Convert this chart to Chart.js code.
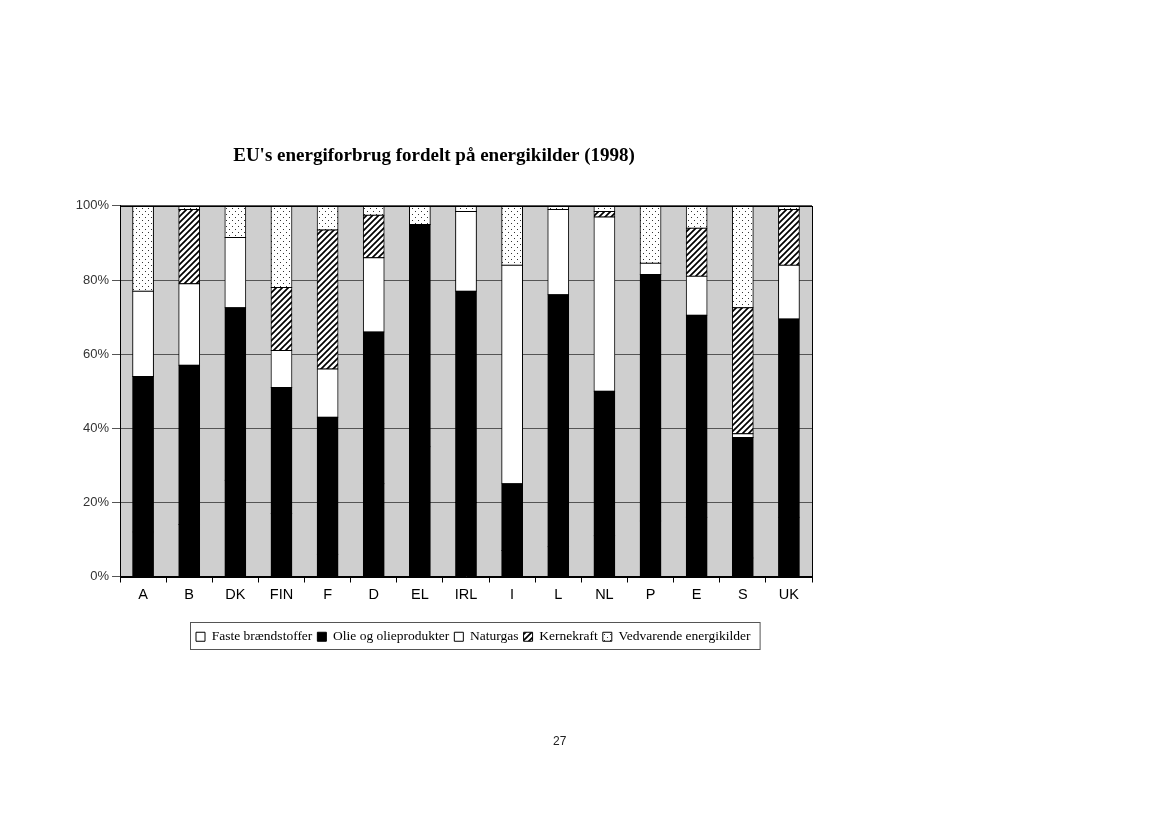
<!DOCTYPE html>
<html><head><meta charset="utf-8">
<script src="https://cdn.jsdelivr.net/npm/chart.js@4/dist/chart.umd.min.js"></script>
<style>
html,body{margin:0;padding:0;background:#fff;width:1163px;height:827px;overflow:hidden}
#wrap{position:absolute;left:0;top:0;width:1163px;height:827px}
#pg{position:absolute;left:553px;top:734px;font:12px "Liberation Sans",Arial,sans-serif;color:#222}
</style></head><body>
<div id="wrap"><canvas id="c" width="1163" height="827"></canvas></div>
<div id="pg">27</div>
<script>
// Categories (countries)
const countries = ["A","B","DK","FIN","F","D","EL","IRL","I","L","NL","P","E","S","UK"];
// Shares in percent (solid fuels are not separable from oil in the scan and are estimated)
const fasteBraendstoffer = [12, 14, 26, 17, 6, 25, 35, 20, 7, 8, 11, 15, 16, 5, 16];
const olieOgOlieprodukter = [42, 43, 46.5, 34, 37, 41, 60, 57, 18, 68, 39, 66.5, 54.5, 32.5, 53.5];
const naturgas = [23, 22, 19, 10, 13, 20, 0, 21.5, 59, 23, 47, 3, 10.5, 1, 14.5];
const kernekraft = [0, 20, 0, 17, 37.5, 11.5, 0, 0, 0, 0, 1.5, 0, 13, 34, 15];
const vedvarende = [23, 1, 8.5, 22, 6.5, 2.5, 5, 1.5, 16, 1, 1.5, 15.5, 6, 27.5, 1];
const yTickStep = 20;
const seriesNames = ["Faste brændstoffer","Olie og olieprodukter","Naturgas","Kernekraft","Vedvarende energikilder"];
const chartTitle = "EU's energiforbrug fordelt på energikilder (1998)";

function hatchPattern(){
  const c=document.createElement('canvas');c.width=6;c.height=6;
  const x=c.getContext('2d');x.fillStyle='#fff';x.fillRect(0,0,6,6);
  x.strokeStyle='#000';x.lineWidth=1.7;x.beginPath();
  x.moveTo(-1,7);x.lineTo(7,-1);x.moveTo(-2,2);x.lineTo(2,-2);x.moveTo(4,8);x.lineTo(8,4);x.stroke();
  return x.createPattern(c,'repeat');
}
function dotPattern(){
  const c=document.createElement('canvas');c.width=6;c.height=6;
  const x=c.getContext('2d');x.fillStyle='#fff';x.fillRect(0,0,6,6);
  x.fillStyle='#333';x.fillRect(1,1,1,1);x.fillRect(4,4,1,1);
  return x.createPattern(c,'repeat');
}
const hatch=hatchPattern(), dots=dotPattern();

let legendBox=null;
const frame = {
  id:'frame',
  beforeDraw(chart){
    const a=chart.chartArea, ctx=chart.ctx;
    ctx.save();ctx.fillStyle='#cfcfcf';ctx.fillRect(a.left,a.top,a.right-a.left,a.bottom-a.top);ctx.restore();
  },
  afterLayout(chart){
    const t=chart.titleBlock;
    if(t){const h=t.height;t.top=156-h/2;t.bottom=t.top+h;const sh=434-(t.left+t.right)/2;t.left+=sh;t.right+=sh;}
    const l=chart.legend;
    if(l){
      const lw=(l.lineWidths&&l.lineWidths[0])||500;
      const pad=l.options.labels.padding;
      const curX=(l.left+pad+l.right-lw)/2;
      const targetX=196;
      const sh=targetX-curX;
      l.left+=sh;l.right+=sh;
      const dy=625-l.top; l.top+=dy; l.bottom+=dy;
      legendBox={x0:190,x1:Math.max(752,targetX+lw+4),y0:622,y1:649};
    }
  },
  afterDraw(chart){
    const a=chart.chartArea, ctx=chart.ctx;
    ctx.save();ctx.strokeStyle='#000';ctx.lineWidth=1;
    ctx.strokeRect(Math.round(a.left)+0.5,Math.round(a.top)+0.5,Math.round(a.right-a.left),Math.round(a.bottom-a.top));
    if(legendBox){ctx.strokeStyle='#555';ctx.strokeRect(legendBox.x0+0.5,legendBox.y0+0.5,legendBox.x1-legendBox.x0,legendBox.y1-legendBox.y0);}
    ctx.restore();
  }
};

const fills=['#000','#000','#fff',hatch,dots];
const dataArrays=[fasteBraendstoffer,olieOgOlieprodukter,naturgas,kernekraft,vedvarende];
const legendFills=['#fff','#000','#fff',hatch,dots];

new Chart(document.getElementById('c'),{
  type:'bar',
  data:{
    labels:countries,
    datasets:dataArrays.map((d,i)=>({
      label:seriesNames[i], data:d, backgroundColor:fills[i],
      borderColor:'#000', borderWidth:1, borderSkipped:false,
      inflateAmount:0.5,
      barPercentage:0.45, categoryPercentage:1
    }))
  },
  options:{
    responsive:false, animation:false,
    layout:{padding:{top:185,left:60,right:351,bottom:182}},
    plugins:{
      title:{display:true,text:chartTitle,color:'#000',padding:{top:0,bottom:0},
        font:{family:'"Liberation Serif","Times New Roman",serif',size:19,weight:'bold',lineHeight:1.1}},
      legend:{display:true,position:'bottom',
        labels:{color:'#000',boxWidth:9,boxHeight:9,padding:5,
          font:{family:'"Liberation Serif","Times New Roman",serif',size:13.5},
          generateLabels(chart){
            const items=Chart.defaults.plugins.legend.labels.generateLabels(chart);
            items.forEach((it,i)=>{it.fillStyle=legendFills[i];it.strokeStyle='#000';it.lineWidth=1;});
            return items;
          }}},
      tooltip:{enabled:false}
    },
    scales:{
      x:{stacked:true,
        afterFit(s){s.height=40;},
        grid:{offset:true,drawOnChartArea:false,drawTicks:true,tickLength:6,color:'#000'},
        border:{color:'#000'},
        ticks:{color:'#000',padding:4,font:{family:'"Liberation Sans",Arial,sans-serif',size:14.5}}},
      y:{stacked:true,min:0,max:100,
        afterFit(s){s.width=60;},
        grid:{color:'#555',tickLength:8,drawTicks:true},
        border:{color:'#000'},
        ticks:{stepSize:yTickStep,color:'#333',padding:3,callback:v=>v+'%',font:{family:'"Liberation Sans",Arial,sans-serif',size:13}}}
    }
  },
  plugins:[frame]
});
</script>
</body></html>
